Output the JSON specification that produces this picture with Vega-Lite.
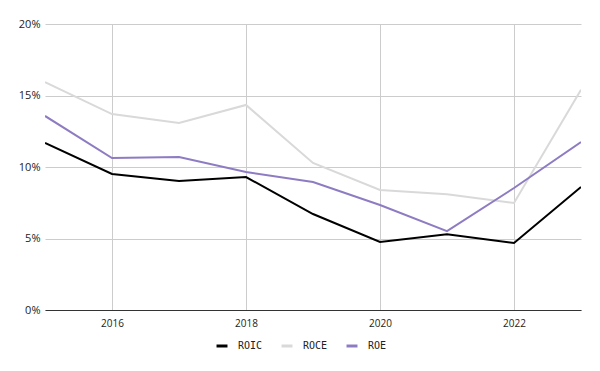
{
  "$schema": "https://vega.github.io/schema/vega-lite/v6.json",
  "autosize": "none",
  "width": 536,
  "height": 286,
  "padding": {"left": 45, "top": 24, "right": 19, "bottom": 61},
  "background": "white",
  "config": {"view": {"stroke": null}, "font": "Open Sans"},
  "data": {"values": [
    {"year": 2015, "metric": "ROIC", "value": 11.68},
    {"year": 2016, "metric": "ROIC", "value": 9.51},
    {"year": 2017, "metric": "ROIC", "value": 9.02},
    {"year": 2018, "metric": "ROIC", "value": 9.3},
    {"year": 2019, "metric": "ROIC", "value": 6.71},
    {"year": 2020, "metric": "ROIC", "value": 4.76},
    {"year": 2021, "metric": "ROIC", "value": 5.3},
    {"year": 2022, "metric": "ROIC", "value": 4.69},
    {"year": 2023, "metric": "ROIC", "value": 8.6},
    {"year": 2015, "metric": "ROCE", "value": 15.94},
    {"year": 2016, "metric": "ROCE", "value": 13.7},
    {"year": 2017, "metric": "ROCE", "value": 13.08},
    {"year": 2018, "metric": "ROCE", "value": 14.34},
    {"year": 2019, "metric": "ROCE", "value": 10.28},
    {"year": 2020, "metric": "ROCE", "value": 8.39},
    {"year": 2021, "metric": "ROCE", "value": 8.1},
    {"year": 2022, "metric": "ROCE", "value": 7.48},
    {"year": 2023, "metric": "ROCE", "value": 15.4},
    {"year": 2015, "metric": "ROE", "value": 13.57},
    {"year": 2016, "metric": "ROE", "value": 10.63},
    {"year": 2017, "metric": "ROE", "value": 10.7},
    {"year": 2018, "metric": "ROE", "value": 9.65},
    {"year": 2019, "metric": "ROE", "value": 8.95},
    {"year": 2020, "metric": "ROE", "value": 7.34},
    {"year": 2021, "metric": "ROE", "value": 5.52},
    {"year": 2022, "metric": "ROE", "value": 8.53},
    {"year": 2023, "metric": "ROE", "value": 11.75}
  ]},
  "mark": {"type": "line", "strokeWidth": 2, "clip": true},
  "encoding": {
    "x": {
      "field": "year", "type": "quantitative",
      "scale": {"domain": [2015, 2023], "nice": false, "zero": false},
      "axis": {
        "title": null, "values": [2016, 2018, 2020, 2022], "format": "d",
        "grid": true, "gridColor": "#cccccc", "gridWidth": 1,
        "domain": true, "domainColor": "#333333", "domainWidth": 1,
        "ticks": false, "labelPadding": 8, "labelFontSize": 10, "labelColor": "#222222"
      }
    },
    "y": {
      "field": "value", "type": "quantitative",
      "scale": {"domain": [0, 20], "nice": false},
      "axis": {
        "title": null, "values": [0, 5, 10, 15, 20], "labelExpr": "datum.value + '%'",
        "grid": true, "gridColor": "#cccccc", "gridWidth": 1,
        "domain": false, "ticks": false, "labelPadding": 5, "labelFontSize": 11, "labelColor": "#222222"
      }
    },
    "color": {
      "field": "metric", "type": "nominal",
      "scale": {"domain": ["ROIC", "ROCE", "ROE"], "range": ["#000000", "#d9d9d9", "#8e7cc3"]},
      "legend": {
        "title": null, "orient": "none", "direction": "horizontal",
        "legendX": 170, "legendY": 315,
        "symbolType": "stroke", "symbolStrokeWidth": 3, "symbolSize": 120,
        "labelFontSize": 10, "labelFont": "DejaVu Sans Mono", "labelColor": "#222222",
        "columnPadding": 12, "labelOffset": 9
      }
    }
  }
}
